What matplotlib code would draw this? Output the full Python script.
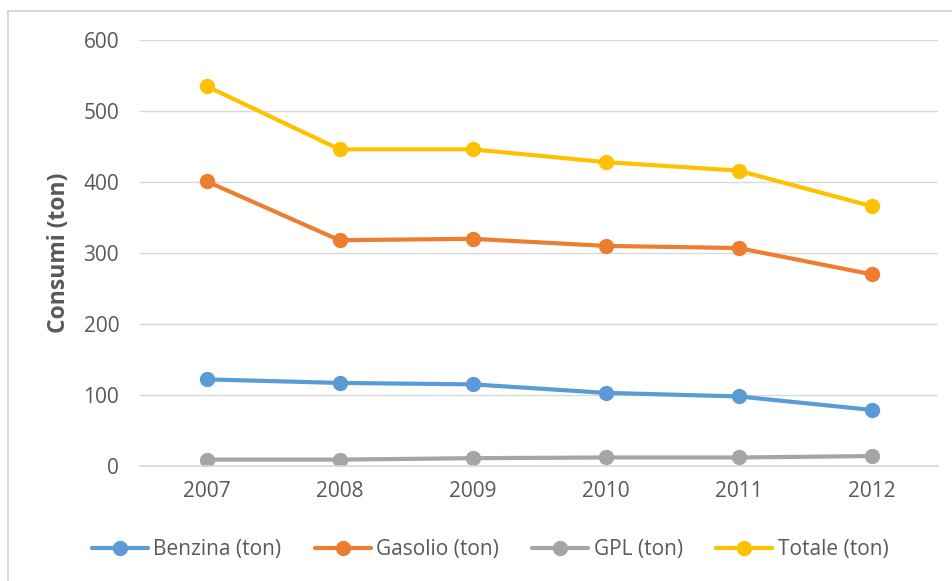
import matplotlib
matplotlib.use("Agg")
import matplotlib.pyplot as plt
from matplotlib.patches import Rectangle

# Data
anni = ["2007", "2008", "2009", "2010", "2011", "2012"]
benzina = [122, 117, 115, 103, 98, 79]
gasolio = [401, 318, 320, 310, 307, 270]
gpl = [9, 9, 11, 12, 12, 14]
totale = [535, 446, 446, 428, 416, 366]

serie = [
    ("Benzina (ton)", benzina, "#5B9BD5"),
    ("Gasolio (ton)", gasolio, "#ED7D31"),
    ("GPL (ton)", gpl, "#A5A5A5"),
    ("Totale (ton)", totale, "#FFC000"),
]

plt.rcParams["font.family"] = ["Open Sans", "DejaVu Sans"]
txt = "#595959"

fig = plt.figure(figsize=(9.52, 5.81), dpi=100)
# chart frame
fig.patches.append(Rectangle((8 / 952, -0.05), 1.1, (581 - 11) / 581 + 0.05,
                             transform=fig.transFigure, fill=False,
                             edgecolor="#d9d9d9", linewidth=1.5))

ax = fig.add_axes([140 / 952, 1 - 466 / 581, (938 - 140) / 952, (466 - 40) / 581])

x = [i + 0.5 for i in range(len(anni))]
for nome, vals, col in serie:
    ax.plot(x, vals, color=col, linewidth=3, marker="o", markersize=10,
            label=nome, solid_capstyle="round")

ax.set_xlim(0, len(anni))
ax.set_ylim(0, 600)
ax.set_yticks(range(0, 601, 100))
ax.set_xticks(x)
ax.set_xticklabels(anni)
ax.grid(axis="y", color="#d9d9d9", linewidth=1)
ax.set_axisbelow(True)
for s in ["top", "right", "left"]:
    ax.spines[s].set_visible(False)
ax.spines["bottom"].set_color("#d9d9d9")
ax.spines["bottom"].set_linewidth(1.2)
ax.tick_params(length=0, labelsize=15, colors=txt)
ax.tick_params(axis="y", pad=15)
ax.tick_params(axis="x", pad=11)

ax.set_ylabel("Consumi (ton)", fontsize=16.5, fontweight="bold", color=txt, labelpad=9)

leg = fig.legend(loc="center", bbox_to_anchor=(490 / 952, 1 - 550 / 581), ncol=4,
                 frameon=False, fontsize=15, handlelength=2.7, columnspacing=1.6,
                 handletextpad=0.25)
for t in leg.get_texts():
    t.set_color(txt)

fig.savefig("out.png", dpi=100)
